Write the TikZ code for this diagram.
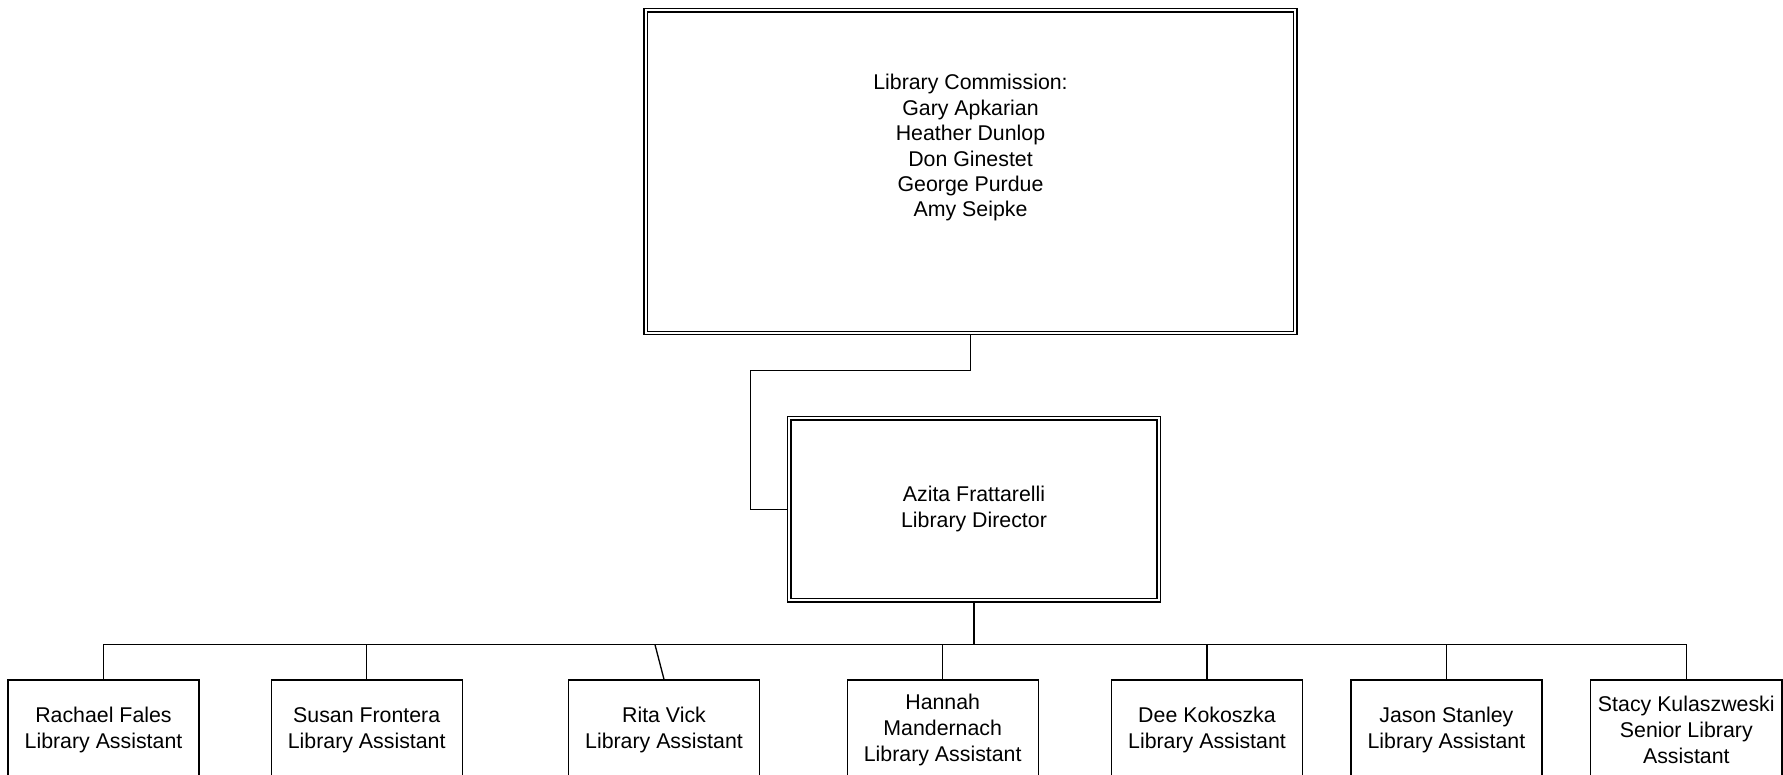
\documentclass[tikz,border=0pt]{standalone}
\usepackage{fontspec}
\setmainfont{Liberation Sans}

\begin{document}
\begin{tikzpicture}[x=0.75pt, y=-0.75pt, line width=1pt, font=\fontsize{16}{19.5}\selectfont,
  board/.style = {draw, double, double distance=1.6pt, outer sep=1.8pt, minimum width=487pt, minimum height=242pt},
  head/.style = {draw, double, double distance=1.6pt, outer sep=1.8pt, align=center, minimum width=277pt, minimum height=136.5pt},
  staff/.style = {draw, align=center, minimum width=143.3pt, minimum height=75.5pt}]
\clip (0,0) rectangle (1783,774);
\fill[white] (0,0) rectangle (1783,774);
% commission and director
\node[board] (comm) at (970.5,171.7) {};
\node[align=center, font=\fontsize{16}{19.1}\selectfont] (commtext) at (970.5,147.8) {Library Commission:\\Gary Apkarian\\Heather Dunlop\\Don Ginestet\\George Purdue\\Amy Seipke};
\node[head] (dir) at (974,509.4) {Azita Frattarelli\\Library Director};
% staff row
\node[staff] (s1) at (103.5,730.3) {Rachael Fales\\Library Assistant};
\node[staff] (s2) at (366.7,730.3) {Susan Frontera\\Library Assistant};
\node[staff] (s3) at (664,730.3) {Rita Vick\\Library Assistant};
\node[staff] (s4) at (942.7,730.3) {Hannah\\Mandernach\\Library Assistant};
\node[staff] (s5) at (1207,730.3) {Dee Kokoszka\\Library Assistant};
\node[staff] (s6) at (1446.4,730.3) {Jason Stanley\\Library Assistant};
\node[staff] (s7) at (1686.3,730.3) {Stacy Kulaszweski\\Senior Library\\Assistant};
\coordinate (bend) at (750.5,370.7);
\coordinate (bus) at (974,644.7);
\coordinate (tap) at (655,644.7);
\draw (comm.south) |- (bend) |- (dir.west);
\draw (dir.south) -- (bus);
\foreach \s in {s1,s2,s4,s5,s6,s7}
  \draw (\s.north) |- (bus);
\draw (tap) -- (s3.north);
\end{tikzpicture}
\end{document}
